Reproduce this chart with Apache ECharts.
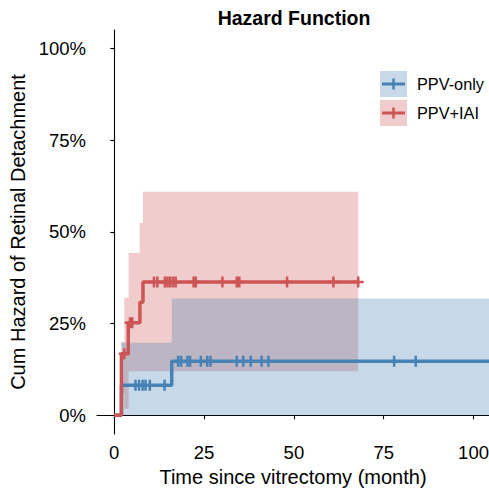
<!DOCTYPE html>
<html>
<head>
<meta charset="utf-8">
<script src="https://cdn.jsdelivr.net/npm/echarts@6/dist/echarts.min.js"></script>
<style>
html,body{margin:0;padding:0;background:#fff;}
#chart{width:489px;height:488px;}
</style>
</head>
<body>
<div id="chart"></div>
<script>
// ---------- data ----------
const groupNames = ['PPV-only', 'PPV+IAI'];
const timeTicks = [0, 25, 50, 75, 100];
const pctTicks = [0, 25, 50, 75, 100];

// step curves (time in months, cumulative hazard in %)
const blueStepT = [0, 2.0, 16.0, 104.3];
const blueStepV = [0, 8.2, 14.7, 14.7];
const redStepT = [0, 2.0, 3.9, 7.15, 8.0, 67.9];
const redStepV = [0, 16.8, 25.2, 30.8, 36.3, 36.3];

// confidence bands
const blueBandT = [2.0, 16.0, 104.3];
const blueBandLo = [0, 0, 0];
const blueBandHi = [19.8, 31.8, 31.8];
const redBandT = [2.0, 2.8, 4.0, 7.1, 8.0, 67.9];
const redBandLo = [5.9, 1.8, 12.0, 12.0, 12.0, 12.0];
const redBandHi = [20.0, 32.0, 44.2, 52.4, 60.9, 60.9];

// censoring times
const blueCensor = [5.9, 6.9, 7.9, 8.7, 9.9, 14.0, 17.8, 18.6, 20.4, 21.1, 24.1, 25.9, 26.8, 34.1, 35.9, 38.0, 41.0, 42.9, 77.9, 83.9];
const redCensor = [2.8, 4.4, 5.0, 11.05, 12.0, 14.1, 14.85, 15.6, 16.4, 17.1, 22.1, 22.7, 30.1, 34.1, 34.8, 48.1, 61.0, 67.9];

// ---------- styling ----------
const FONT = 'Liberation Sans, Arial, Helvetica, sans-serif';
const BLUE = '#4682B4';
const RED = '#CD5555';
const BLUE_BAND = 'rgba(70,130,180,0.3)';
const RED_BAND = 'rgba(205,85,85,0.3)';
const PLUS = 'path://M0,3.85H10V6.15H0Z M3.85,0H6.15V10H3.85Z';

function levelAt(T, V, t) {
  let v = V[0];
  for (let i = 0; i < T.length; i++) if (T[i] <= t) v = V[i];
  return v;
}
function pairs(T, V) { return T.map((t, i) => [t, V[i]]); }

function bandSeries(name, T, lo, hi, color) {
  return {
    name: name, type: 'custom', silent: true, clip: true, z: 1,
    encode: { x: 0, y: [1, 2] },
    data: T.map((t, i) => [t, lo[i], hi[i]]),
    renderItem: function (params, api) {
      if (params.dataIndex !== 0) return null;
      const pts = [];
      for (let i = 0; i < T.length; i++) {
        if (i > 0) pts.push(api.coord([T[i], hi[i - 1]]));
        pts.push(api.coord([T[i], hi[i]]));
      }
      for (let i = T.length - 1; i >= 0; i--) {
        pts.push(api.coord([T[i], lo[i]]));
        if (i > 0) pts.push(api.coord([T[i], lo[i - 1]]));
      }
      return { type: 'polygon', shape: { points: pts }, style: { fill: color } };
    }
  };
}

const chart = echarts.init(document.getElementById('chart'), null, { renderer: 'svg' });

const option = {
  animation: false,
  backgroundColor: '#fff',
  textStyle: { fontFamily: FONT },
  title: {
    text: 'Hazard Function', left: 289, top: 3, textAlign: 'center',
    textStyle: { fontSize: 19.5, fontWeight: 'bold', color: '#000', fontFamily: FONT }
  },
  grid: { left: 97, right: 0, top: 30, bottom: 54, outerBoundsMode: 'none', containLabel: false },
  xAxis: {
    type: 'value', min: -4.8, max: 104.3,
    name: 'Time since vitrectomy (month)', nameLocation: 'middle', nameGap: 33,
    nameTextStyle: { fontSize: 20, color: '#000', fontFamily: FONT },
    axisLine: { show: true, lineStyle: { color: '#000', width: 1.1 } },
    axisTick: { show: true, customValues: timeTicks, length: 4, lineStyle: { color: '#000', width: 1.1 } },
    axisLabel: { customValues: timeTicks, fontSize: 18.5, color: '#000', margin: 9, fontFamily: FONT, hideOverlap: false },
    splitLine: { show: false }
  },
  yAxis: {
    type: 'value', min: -5.1, max: 105,
    name: 'Cum Hazard of Retinal Detachment', nameLocation: 'middle', nameGap: 63, nameRotate: 90,
    nameTextStyle: { fontSize: 20, color: '#000', fontFamily: FONT },
    axisLine: { show: true, lineStyle: { color: '#000', width: 1.1 } },
    axisTick: { show: true, customValues: pctTicks, length: 4, lineStyle: { color: '#000', width: 1.1 } },
    axisLabel: { customValues: pctTicks, formatter: '{value}%', fontSize: 18.5, color: '#000', margin: 11, fontFamily: FONT },
    splitLine: { show: false }
  },
  series: [
    bandSeries('PPV+IAI band', redBandT, redBandLo, redBandHi, RED_BAND),
    bandSeries('PPV-only band', blueBandT, blueBandLo, blueBandHi, BLUE_BAND),
    { name: groupNames[0], type: 'line', step: 'end', data: pairs(blueStepT, blueStepV),
      showSymbol: false, lineStyle: { color: BLUE, width: 3.5, cap: 'butt' }, itemStyle: { color: BLUE }, z: 3 },
    { name: groupNames[1], type: 'line', step: 'end', data: pairs(redStepT, redStepV),
      showSymbol: false, lineStyle: { color: RED, width: 3.5, cap: 'butt' }, itemStyle: { color: RED }, z: 3 },
    { name: groupNames[0] + ' censor', type: 'scatter', symbol: PLUS, symbolSize: 11,
      data: blueCensor.map(t => [t, levelAt(blueStepT, blueStepV, t)]),
      itemStyle: { color: BLUE, opacity: 1 }, z: 4, silent: true },
    { name: groupNames[1] + ' censor', type: 'scatter', symbol: PLUS, symbolSize: 11,
      data: redCensor.map(t => [t, levelAt(redStepT, redStepV, t)]),
      itemStyle: { color: RED, opacity: 1 }, z: 4, silent: true }
  ],
  graphic: [
    { type: 'rect', shape: { x: 380, y: 71, width: 27, height: 26 }, style: { fill: BLUE_BAND } },
    { type: 'line', shape: { x1: 382, y1: 84, x2: 405, y2: 84 }, style: { stroke: BLUE, lineWidth: 3 } },
    { type: 'line', shape: { x1: 393.5, y1: 78.5, x2: 393.5, y2: 89.5 }, style: { stroke: BLUE, lineWidth: 2.5 } },
    { type: 'text', x: 417, y: 84, style: { text: groupNames[0], fontSize: 16.3, fontFamily: FONT, fill: '#000', verticalAlign: 'middle', align: 'left' } },
    { type: 'rect', shape: { x: 380, y: 100, width: 27, height: 26 }, style: { fill: RED_BAND } },
    { type: 'line', shape: { x1: 382, y1: 113, x2: 405, y2: 113 }, style: { stroke: RED, lineWidth: 3 } },
    { type: 'line', shape: { x1: 393.5, y1: 107.5, x2: 393.5, y2: 118.5 }, style: { stroke: RED, lineWidth: 2.5 } },
    { type: 'text', x: 417, y: 113, style: { text: groupNames[1], fontSize: 16.3, fontFamily: FONT, fill: '#000', verticalAlign: 'middle', align: 'left' } }
  ]
};
chart.setOption(option);
</script>
</body>
</html>
